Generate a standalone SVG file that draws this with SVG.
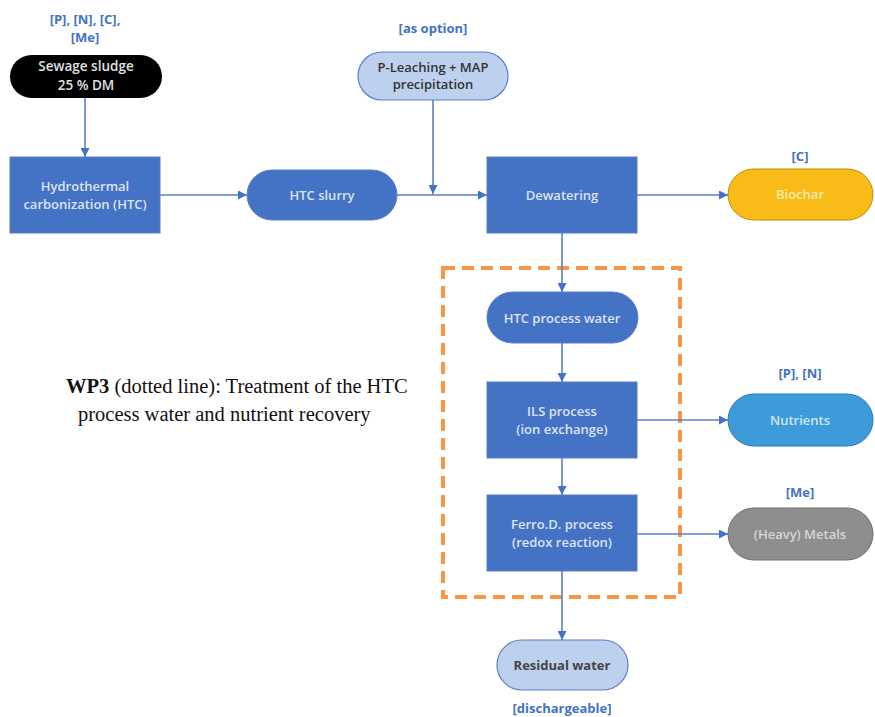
<svg xmlns="http://www.w3.org/2000/svg" width="875" height="717" viewBox="0 0 875 717">
<defs>
<marker id="ah" viewBox="0 0 10 10" refX="10" refY="5" markerWidth="9" markerHeight="9" markerUnits="userSpaceOnUse" orient="auto">
<path d="M0,0 L10,5 L0,10 z" fill="#4472C4"/>
</marker>
<style>
.box{fill:#4472C4;stroke:#5B7FC4;stroke-width:1}
.btxt{font-family:"Open Sans","Liberation Sans",sans-serif;font-size:13px;font-weight:600;fill:#DCE4F4;text-anchor:middle}
.ltxt{font-family:"Open Sans","Liberation Sans",sans-serif;font-size:13px;fill:#4472C4;font-weight:bold;text-anchor:middle}
.light{fill:#BDD0EE;stroke:#5B7FC4;stroke-width:1.2}
.dtxt{font-family:"Open Sans","Liberation Sans",sans-serif;font-size:13px;font-weight:600;fill:#333;text-anchor:middle}
.conn{stroke:#5B7FC4;stroke-width:1.6;fill:none}
</style>
</defs>
<rect width="875" height="717" fill="#fff"/>

<g id="sewage">
<text class="ltxt" x="85" y="24">[P], [N], [C],</text>
<text class="ltxt" x="85" y="42">[Me]</text>
<rect x="10" y="55" width="152" height="43" rx="21.5" fill="#000"/>
<text class="btxt" x="86" y="71" style="fill:#e0e0e0;font-size:13.5px">Sewage sludge</text>
<text class="btxt" x="86" y="90" style="fill:#e0e0e0;font-size:13.5px">25 % DM</text>
</g>

<g id="htc">
<rect class="box" x="10" y="157" width="150" height="76"/>
<text class="btxt" x="85" y="191">Hydrothermal</text>
<text class="btxt" x="85" y="209">carbonization (HTC)</text>
</g>

<g id="slurry">
<rect class="box" x="247" y="170" width="150" height="50" rx="25"/>
<text class="btxt" x="322" y="200">HTC slurry</text>
</g>

<g id="leaching">
<text class="ltxt" x="433" y="33">[as option]</text>
<rect class="light" x="358" y="52" width="150" height="48" rx="24"/>
<text class="dtxt" x="433" y="72">P-Leaching + MAP</text>
<text class="dtxt" x="433" y="89">precipitation</text>
</g>

<g id="dewatering">
<rect class="box" x="487" y="157" width="150" height="76"/>
<text class="btxt" x="562" y="200">Dewatering</text>
</g>

<g id="biochar">
<text class="ltxt" x="800" y="161">[C]</text>
<rect x="728" y="169" width="145" height="51" rx="25.5" fill="#F8BB17" stroke="#B98C10" stroke-width="1"/>
<text class="btxt" x="800" y="199" style="fill:#FDE9B4">Biochar</text>
</g>

<g id="wp3">
<rect x="443" y="268" width="237" height="329" fill="none" stroke="#F79646" stroke-width="4" stroke-dasharray="12,7"/>
<text x="66" y="393" font-family="Liberation Serif,serif" font-size="20.5" fill="#111"><tspan font-weight="bold">WP3</tspan> (dotted line): Treatment of the HTC</text>
<text x="78" y="421" font-family="Liberation Serif,serif" font-size="20.5" fill="#111">process water and nutrient recovery</text>
</g>

<g id="processwater">
<rect class="box" x="487" y="292" width="151" height="51" rx="25.5"/>
<text class="btxt" x="562" y="323">HTC process water</text>
</g>

<g id="ils">
<rect class="box" x="487" y="382" width="150" height="76"/>
<text class="btxt" x="562" y="416">ILS process</text>
<text class="btxt" x="562" y="434">(ion exchange)</text>
</g>

<g id="ferro">
<rect class="box" x="487" y="495" width="150" height="76"/>
<text class="btxt" x="562" y="529">Ferro.D. process</text>
<text class="btxt" x="562" y="547">(redox reaction)</text>
</g>

<g id="nutrients">
<text class="ltxt" x="800" y="378">[P], [N]</text>
<rect x="728" y="394" width="145" height="52" rx="26" fill="#3D9BD9" stroke="#2E78B0" stroke-width="1"/>
<text class="btxt" x="800" y="425" style="fill:#CFE6F6">Nutrients</text>
</g>

<g id="metals">
<text class="ltxt" x="800" y="497">[Me]</text>
<rect x="728" y="508" width="145" height="52" rx="26" fill="#8E8E8E" stroke="#6E6E6E" stroke-width="1"/>
<text class="btxt" x="800" y="539" style="fill:#D6D6D6">(Heavy) Metals</text>
</g>

<g id="residual">
<rect class="light" x="497" y="640" width="131" height="50" rx="25"/>
<text class="dtxt" x="562" y="670" style="font-weight:bold;fill:#444">Residual water</text>
<text class="ltxt" x="562" y="713">[dischargeable]</text>
</g>

<g id="connectors">
<line class="conn" x1="85" y1="98" x2="85" y2="157" marker-end="url(#ah)"/>
<line class="conn" x1="160" y1="195" x2="247" y2="195" marker-end="url(#ah)"/>
<line class="conn" x1="397" y1="195" x2="487" y2="195" marker-end="url(#ah)"/>
<line class="conn" x1="433" y1="100" x2="433" y2="194" marker-end="url(#ah)"/>
<line class="conn" x1="637" y1="195" x2="728" y2="195" marker-end="url(#ah)"/>
<line class="conn" x1="562" y1="233" x2="562" y2="292" marker-end="url(#ah)"/>
<line class="conn" x1="562" y1="343" x2="562" y2="382" marker-end="url(#ah)"/>
<line class="conn" x1="562" y1="458" x2="562" y2="495" marker-end="url(#ah)"/>
<line class="conn" x1="562" y1="571" x2="562" y2="640" marker-end="url(#ah)"/>
<line class="conn" x1="637" y1="420" x2="728" y2="420" marker-end="url(#ah)"/>
<line class="conn" x1="637" y1="534" x2="728" y2="534" marker-end="url(#ah)"/>
</g>
</svg>
